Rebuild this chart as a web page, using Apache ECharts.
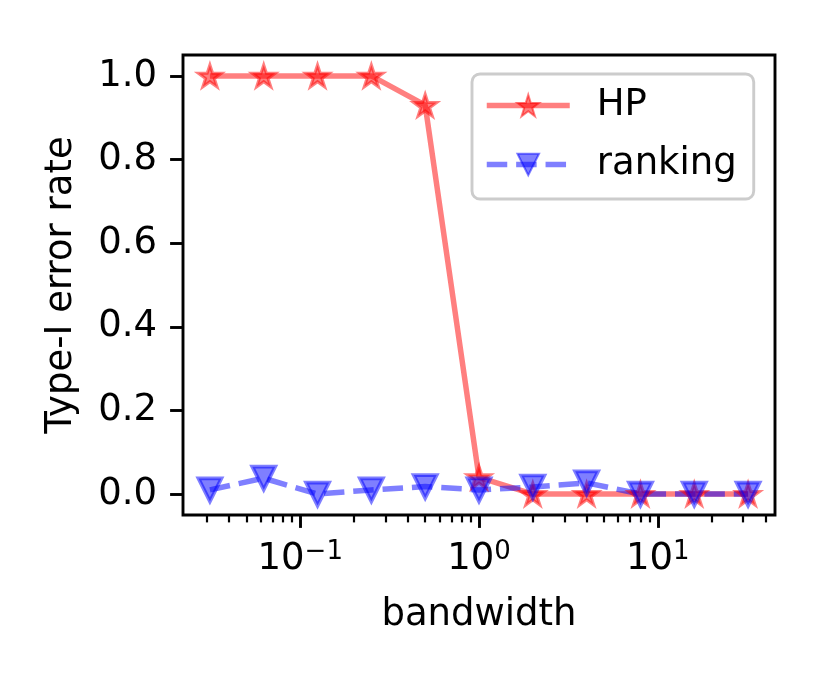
<!DOCTYPE html>
<html>
<head>
<meta charset="utf-8">
<script src="https://cdn.jsdelivr.net/npm/echarts@6/dist/echarts.min.js"></script>
<style>
  html, body { margin: 0; padding: 0; background: #fff; }
  #chart { width: 830px; height: 692px; }
</style>
</head>
<body>
<div id="chart"></div>
<script>
// data
const bandwidth = [1/32, 1/16, 1/8, 1/4, 1/2, 1, 2, 4, 8, 16, 32];
const hpRate = [1.0, 1.0, 1.0, 1.0, 0.93, 0.04, 0.0, 0.0, 0.0, 0.0, 0.0];
const rankingRate = [0.01, 0.038, 0.0, 0.01, 0.018, 0.01, 0.017, 0.027, 0.0, 0.0, 0.0];

// ticks
const xMajorTicks = [0.1, 1, 10];
const xMinorTicks = [0.03, 0.04, 0.05, 0.06, 0.07, 0.08, 0.09,
                     0.2, 0.3, 0.4, 0.5, 0.6, 0.7, 0.8, 0.9,
                     2, 3, 4, 5, 6, 7, 8, 9, 20, 30, 40];
const yTicks = [0, 0.2, 0.4, 0.6, 0.8, 1.0];

const FONT = 'DejaVu Sans';
const FS = 37;
const X_MIN = Math.pow(2, -5.5);
const X_MAX = Math.pow(2, 5.5);

// matplotlib-like star and down triangle
const STAR = 'path://M0,-100L22.45,-30.9L95.11,-30.9L36.33,11.8L58.78,80.9L0,38.2L-58.78,80.9L-36.33,11.8L-95.11,-30.9L-22.45,-30.9Z';
const TRI_DOWN = 'path://M-100,-100L100,-100L0,100Z';

const chart = echarts.init(document.getElementById('chart'));

function expLabel(v) {
    const e = Math.round(Math.log10(v));
    const s = e < 0 ? '\u2212' + (-e) : String(e);
    return '{b|10}{s|' + s + '}';
}

const baseXAxis = {
    type: 'log',
    logBase: 10,
    min: X_MIN,
    max: X_MAX,
    gridIndex: 0,
    position: 'bottom',
    splitLine: { show: false },
    axisLine: { show: false, onZero: false },
};

chart.setOption({
    animation: false,
    backgroundColor: '#fff',
    textStyle: { fontFamily: FONT },
    grid: {
        left: 183, right: 55, top: 55, bottom: 177,
        show: true,
        borderColor: '#000',
        borderWidth: 2.9,
        backgroundColor: 'transparent',
        outerBoundsMode: 'none',
    },
    legend: {
        orient: 'vertical',
        left: 472,
        top: 74,
        itemWidth: 83,
        itemHeight: 27,
        itemGap: 22,
        padding: [13, 17, 16, 12],
        backgroundColor: '#fff',
        borderColor: '#cccccc',
        borderWidth: 2.9,
        borderRadius: 8,
        lineStyle: { width: 5.5 },
        textStyle: {
            fontFamily: FONT,
            fontSize: FS,
            color: '#000',
            lineHeight: 36,
            padding: [0, 0, 0, 22],
        },
        data: ['HP', 'ranking'],
    },
    xAxis: [
        Object.assign({}, baseXAxis, {
            name: 'bandwidth',
            nameLocation: 'middle',
            nameGap: 82,
            nameTextStyle: { fontFamily: FONT, fontSize: FS, color: '#000' },
            axisTick: {
                show: true, length: 12.9, customValues: xMajorTicks,
                lineStyle: { color: '#000', width: 2.9 },
            },
            axisLabel: {
                customValues: xMajorTicks,
                margin: 24,
                formatter: expLabel,
                rich: {
                    b: { fontFamily: FONT, fontSize: FS, color: '#000' },
                    s: { fontFamily: FONT, fontSize: 26, color: '#000', verticalAlign: 'top', padding: [0, 0, 14, 0] },
                },
            },
        }),
        Object.assign({}, baseXAxis, {
            axisTick: {
                show: true, length: 7.4, customValues: xMinorTicks,
                lineStyle: { color: '#000', width: 2.2 },
            },
            axisLabel: { show: false },
        }),
    ],
    yAxis: {
        type: 'value',
        min: -0.05,
        max: 1.05,
        name: 'Type-I error rate',
        nameLocation: 'middle',
        nameRotate: 90,
        nameGap: 103,
        nameTextStyle: { fontFamily: FONT, fontSize: FS, color: '#000' },
        splitLine: { show: false },
        axisLine: { show: false, onZero: false },
        axisTick: {
            show: true, length: 12.9, customValues: yTicks,
            lineStyle: { color: '#000', width: 2.9 },
        },
        axisLabel: {
            customValues: yTicks,
            margin: 26,
            fontFamily: FONT,
            fontSize: FS,
            color: '#000',
            formatter: v => v.toFixed(1),
        },
    },
    series: [
        {
            name: 'HP',
            type: 'line',
            xAxisIndex: 0,
            data: bandwidth.map((b, i) => [b, hpRate[i]]),
            symbol: STAR,
            symbolSize: 23,
            symbolKeepAspect: true,
            lineStyle: { color: 'rgba(255,0,0,0.5)', width: 5.5 },
            itemStyle: { color: 'rgba(255,0,0,0.5)', borderColor: 'rgba(255,0,0,0.5)', borderWidth: 3 },
            emphasis: { disabled: true },
        },
        {
            name: 'ranking',
            type: 'line',
            xAxisIndex: 0,
            data: bandwidth.map((b, i) => [b, rankingRate[i]]),
            symbol: TRI_DOWN,
            symbolSize: 23,
            symbolKeepAspect: true,
            lineStyle: { color: 'rgba(0,0,255,0.5)', width: 5.5, type: [20.5, 8.9] },
            itemStyle: { color: 'rgba(0,0,255,0.5)', borderColor: 'rgba(0,0,255,0.5)', borderWidth: 3.7 },
            emphasis: { disabled: true },
        },
    ],
});
</script>
</body>
</html>
